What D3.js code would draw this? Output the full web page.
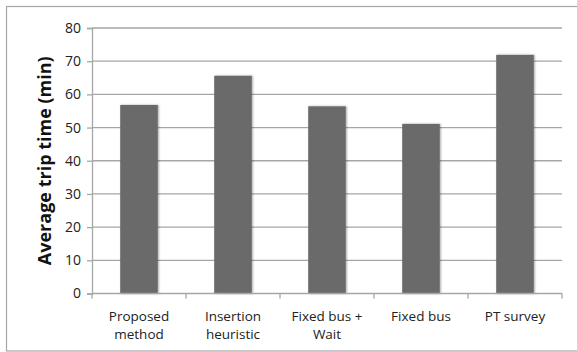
<!DOCTYPE html>
<html>
<head>
<meta charset="utf-8">
<script src="https://cdn.jsdelivr.net/npm/d3@7"></script>
<style>
  body { margin: 0; background: #fff; }
  svg { display: block; font-family: "Open Sans", "Noto Sans", sans-serif; }
</style>
</head>
<body>
<div id="chart"></div>
<script>
// data
const categories = [["Proposed", "method"], ["Insertion", "heuristic"], ["Fixed bus +", "Wait"], ["Fixed bus"], ["PT survey"]];
const values = [56.8, 65.6, 56.4, 51.1, 71.9];
const yTicks = [0, 10, 20, 30, 40, 50, 60, 70, 80];
const yTitle = "Average trip time (min)";

const W = 577, H = 352;
const margin = { top: 28, right: 15, bottom: 58.5, left: 92 };
const w = W - margin.left - margin.right;
const h = H - margin.top - margin.bottom;

const svg = d3.select("#chart").append("svg").attr("width", W).attr("height", H);

// outer chart border
svg.append("rect")
  .attr("x", 6.5).attr("y", 6.5)
  .attr("width", W).attr("height", H - 7.5)
  .attr("fill", "#fff").attr("stroke", "#a6a6a6").attr("stroke-width", 1.2);

const defs = svg.append("defs");
const shadow = defs.append("filter").attr("id", "shadow")
  .attr("x", "-20%").attr("y", "-10%").attr("width", "140%").attr("height", "120%");
shadow.append("feGaussianBlur").attr("in", "SourceAlpha").attr("stdDeviation", 1.2);
shadow.append("feOffset").attr("dx", 1).attr("dy", 0).attr("result", "b");
shadow.append("feComponentTransfer").append("feFuncA").attr("type", "linear").attr("slope", 0.35);
const merge = shadow.append("feMerge");
merge.append("feMergeNode");
merge.append("feMergeNode").attr("in", "SourceGraphic");

const g = svg.append("g").attr("transform", `translate(${margin.left},${margin.top})`);

const x = d3.scaleBand().domain(d3.range(categories.length)).range([0, w]).paddingInner(0.6).paddingOuter(0.3);
const y = d3.scaleLinear().domain([0, 80]).range([h, 0]);

// gridlines
g.append("g").selectAll("line").data(yTicks.slice(1)).join("line")
  .attr("x1", 0).attr("x2", w)
  .attr("y1", d => y(d)).attr("y2", d => y(d))
  .attr("stroke", "#a6a6a6").attr("stroke-width", 1.3);

// y axis
const yAxis = g.append("g").call(d3.axisLeft(y).tickValues(yTicks).tickSize(5).tickPadding(6));
yAxis.select(".domain").attr("stroke", "#a6a6a6").attr("stroke-width", 1.3);
yAxis.selectAll(".tick line").attr("stroke", "#a6a6a6").attr("stroke-width", 1.3);
yAxis.selectAll(".tick text").attr("font-size", 14).attr("fill", "#222")
  .attr("font-family", "'Open Sans', sans-serif");

// bars
g.append("g").selectAll("rect").data(values).join("rect")
  .attr("x", (d, i) => x(i))
  .attr("y", d => y(d))
  .attr("width", x.bandwidth())
  .attr("height", d => h - y(d))
  .attr("fill", "#6b6b6b")
  .attr("filter", "url(#shadow)");

// x axis
const step = w / categories.length;
const xAxisG = g.append("g").attr("transform", `translate(0,${h})`);
xAxisG.append("line").attr("x1", 0).attr("x2", w).attr("stroke", "#a6a6a6").attr("stroke-width", 1.3);
xAxisG.selectAll(".xt").data(d3.range(categories.length + 1)).join("line")
  .attr("class", "xt")
  .attr("x1", i => i * step).attr("x2", i => i * step)
  .attr("y1", 0).attr("y2", 5)
  .attr("stroke", "#a6a6a6").attr("stroke-width", 1.3);

const labels = xAxisG.selectAll(".xl").data(categories).join("text")
  .attr("class", "xl")
  .attr("text-anchor", "middle")
  .attr("font-size", 13.5)
  .attr("fill", "#222");
labels.each(function (lines, i) {
  const t = d3.select(this);
  lines.forEach((ln, k) => {
    t.append("tspan")
      .attr("x", x(i) + x.bandwidth() / 2)
      .attr("y", 27 + k * 18)
      .text(ln);
  });
});

// y title
g.append("text")
  .attr("transform", `translate(${-41},${h / 2}) rotate(-90)`)
  .attr("text-anchor", "middle")
  .attr("font-size", 18)
  .attr("font-weight", "bold")
  .attr("fill", "#111")
  .text(yTitle);
</script>
</body>
</html>
